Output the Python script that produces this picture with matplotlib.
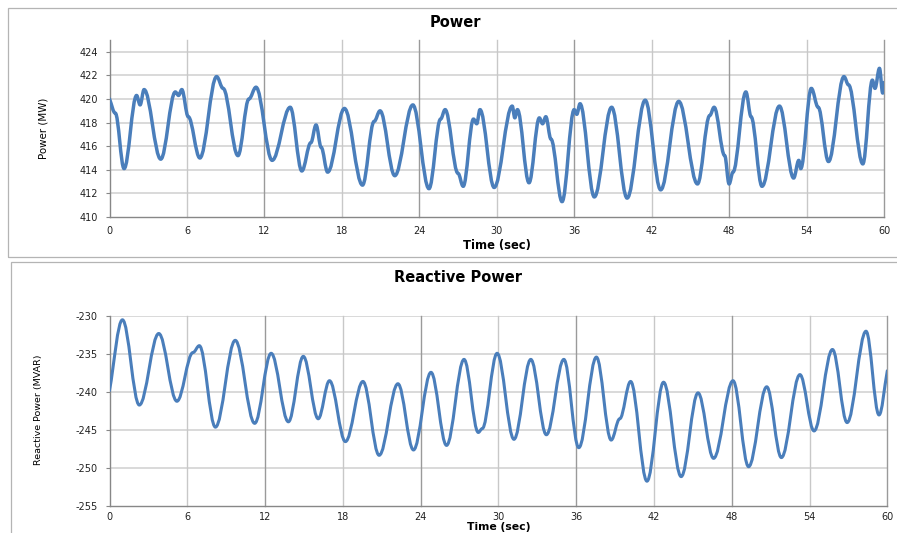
import matplotlib
matplotlib.use("Agg")
import matplotlib.pyplot as plt
from matplotlib.path import Path
from matplotlib.patches import PathPatch, Rectangle

# ---------------- data ----------------
power_time = [0.0, 0.45, 1.13, 2.1, 2.37, 2.68, 3.97, 5.1, 5.35, 5.6, 6.1, 7.0,
              8.3, 8.8, 9.95, 10.8, 11.35, 12.6, 14.0, 14.9, 15.6, 16.0, 16.4,
              16.9, 18.2, 19.6, 20.5, 20.96, 22.1, 23.5, 24.75, 25.65, 26.0,
              27.0, 27.4, 28.2, 28.45, 28.7, 29.8, 31.2, 31.4, 31.6, 32.5,
              33.3, 33.55, 33.8, 34.2, 35.06, 36.0, 36.2, 36.45, 37.56, 38.9,
              40.1, 41.5, 42.7, 44.1, 45.55, 46.5, 46.84, 47.66, 48.0, 48.3,
              49.3, 49.7, 50.55, 51.9, 53.0, 53.4, 53.55, 54.37, 54.9, 55.7,
              56.9, 57.25, 58.36, 59.1, 59.3, 59.65, 59.9, 60.0]
power_mw = [420.0, 418.8, 414.1, 420.3, 419.5, 420.8, 414.9, 420.6, 420.3, 420.8,
            418.5, 415.0, 421.9, 420.9, 415.2, 420.0, 421.0, 414.8, 419.3, 413.9,
            416.3, 417.8, 415.9, 413.8, 419.2, 412.7, 418.1, 419.0, 413.5, 419.5,
            412.4, 418.3, 419.1, 413.7, 412.6, 418.3, 417.9, 419.1, 412.5, 419.4,
            418.4, 419.1, 412.9, 418.4, 417.9, 418.5, 416.6, 411.3, 419.1, 418.7,
            419.6, 411.7, 419.3, 411.6, 419.9, 412.3, 419.8, 412.8, 418.6, 419.3,
            415.2, 412.8, 413.8, 420.6, 418.5, 412.6, 419.4, 413.3, 414.8, 414.1,
            420.9, 419.3, 414.7, 421.9, 421.2, 414.5, 421.6, 420.9, 422.6, 420.5,
            421.4]

reactive_time = [0.0, 1.0, 2.3, 3.8, 5.2, 6.44, 6.93, 8.17, 9.7, 11.2, 12.47,
                 13.8, 14.95, 16.1, 16.97, 18.2, 19.55, 20.8, 22.25, 23.45, 24.8,
                 26.0, 27.35, 28.45, 28.75, 29.9, 31.2, 32.5, 33.7, 35.05, 36.2,
                 37.56, 38.7, 39.36, 40.2, 41.46, 42.74, 44.1, 45.4, 46.6, 48.1,
                 49.3, 50.7, 51.83, 53.26, 54.35, 55.77, 56.9, 58.36, 59.36, 60.0]
reactive_mvar = [-239.8, -230.5, -241.7, -232.3, -241.2, -234.8, -233.9, -244.6,
                 -233.2, -244.1, -234.9, -243.9, -235.3, -243.5, -238.5, -246.5,
                 -238.6, -248.3, -238.9, -247.6, -237.4, -247.0, -235.7, -245.3,
                 -244.8, -234.9, -246.2, -235.7, -245.6, -235.7, -247.3, -235.4,
                 -246.3, -243.5, -238.6, -251.7, -238.7, -251.1, -240.1, -248.7,
                 -238.5, -249.8, -239.3, -248.6, -237.7, -245.1, -234.4, -244.0,
                 -232.0, -243.0, -237.2]

x_ticks = [0, 6, 12, 18, 24, 30, 36, 42, 48, 54, 60]
power_ticks = [410, 412, 414, 416, 418, 420, 422, 424]
reactive_ticks = [-255, -250, -245, -240, -235, -230]

# ---------------- style ----------------
LINE = "#4A7EBB"
SPINE = "#878787"
HGRID = "#cfcfcf"
VGRID_DARK = "#9a9a9a"
VGRID_LIGHT = "#c8c8c8"
FRAME = "#b4b4b4"

plt.rcParams["font.family"] = ["DejaVu Sans"]

W, H = 897, 533
fig = plt.figure(figsize=(W / 100, H / 100), dpi=100)


def fx(px):
    return px / W


def fy(py):
    return 1 - py / H


def smooth_path(t, v, k=0.3634):
    """Smoothed (Bezier) line through the read extrema, like a spline line."""
    verts = [(t[0], v[0])]
    codes = [Path.MOVETO]
    n = len(t)
    for i in range(n - 1):
        dt = t[i + 1] - t[i]
        dv = v[i + 1] - v[i]
        c1 = (t[i] + k * dt, v[i] + (k * dv if i == 0 else 0))
        c2 = (t[i + 1] - k * dt, v[i + 1] - (k * dv if i == n - 2 else 0))
        verts += [c1, c2, (t[i + 1], v[i + 1])]
        codes += [Path.CURVE4] * 3
    return Path(verts, codes)


def style_axes(ax, yticks, ylim, xpad):
    ax.set_xlim(0, 60)
    ax.set_ylim(*ylim)
    ax.set_xticks(x_ticks)
    ax.set_yticks(yticks)
    ax.set_xticklabels([str(x) for x in x_ticks])
    ax.set_yticklabels([str(y) for y in yticks])
    for s in ("top", "right"):
        ax.spines[s].set_visible(False)
    for s in ("left", "bottom"):
        ax.spines[s].set_color(SPINE)
        ax.spines[s].set_linewidth(1.0)
    ax.tick_params(axis="x", length=0, pad=xpad, labelsize=7, colors="#222222")
    ax.tick_params(axis="y", length=3, width=0.8, color=SPINE, pad=5.5,
                   labelsize=7, labelcolor="#222222")
    for y in yticks[1:]:
        ax.axhline(y, color=HGRID, lw=1.1, zorder=0)
    for x in x_ticks[1:]:
        ax.axvline(x, color=VGRID_DARK if x % 12 == 0 else VGRID_LIGHT,
                   lw=1.0, zorder=0, clip_on=False)
    ax.set_facecolor("white")


# frames around the two chart panels
fig.add_artist(Rectangle((fx(7.5), fy(257)), fx(900 - 7.5), (257 - 7.5) / H,
                         transform=fig.transFigure, fill=False,
                         edgecolor=FRAME, lw=0.9))
fig.add_artist(Rectangle((fx(10.5), fy(540)), fx(900 - 10.5), (540 - 262) / H,
                         transform=fig.transFigure, fill=False,
                         edgecolor=FRAME, lw=0.9))

# top: Power
ax1 = fig.add_axes([fx(109.5), fy(217), fx(884 - 109.5), (217 - 40) / H])
style_axes(ax1, power_ticks, (410, 425), 6.5)
ax1.add_patch(PathPatch(smooth_path(power_time, power_mw), facecolor="none",
                        edgecolor=LINE, lw=2.5, joinstyle="round",
                        capstyle="round", zorder=3))

# bottom: Reactive Power
ax2 = fig.add_axes([fx(109.5), fy(506.3), fx(887.3 - 109.5), (506.3 - 316) / H])
style_axes(ax2, reactive_ticks, (-255, -230), 4.0)
ax2.add_patch(PathPatch(smooth_path(reactive_time, reactive_mvar),
                        facecolor="none", edgecolor=LINE, lw=2.2,
                        joinstyle="round", capstyle="round", zorder=3))

# texts
fig.text(fx(455.5), fy(22), "Power", ha="center", va="center",
         fontsize=10.5, fontweight="bold")
fig.text(fx(458), fy(277), "Reactive Power", ha="center", va="center",
         fontsize=10.5, fontweight="bold")
fig.text(fx(497), fy(245), "Time (sec)", ha="center", va="center",
         fontsize=8.3, fontweight="bold")
fig.text(fx(499), fy(527.5), "Time (sec)", ha="center", va="center",
         fontsize=7.8, fontweight="bold")
fig.text(fx(44), fy(128), "Power (MW)", ha="center", va="center",
         rotation=90, fontsize=7.4)
fig.text(fx(38), fy(410), "Reactive Power (MVAR)", ha="center", va="center",
         rotation=90, fontsize=6.8)

fig.savefig("out.png", dpi=100, facecolor="white")
